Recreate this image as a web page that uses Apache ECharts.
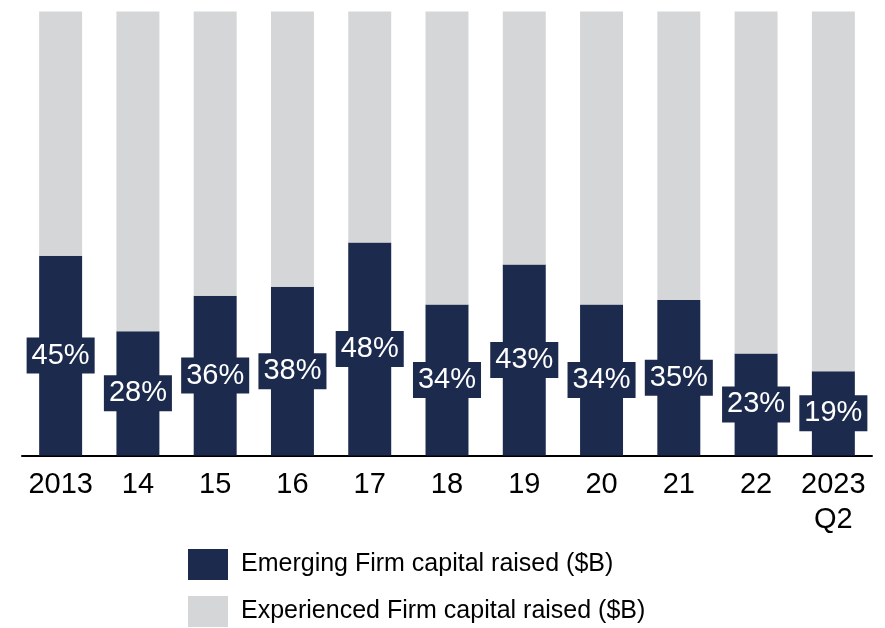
<!DOCTYPE html>
<html>
<head>
<meta charset="utf-8">
<script src="https://cdn.jsdelivr.net/npm/echarts@6/dist/echarts.min.js"></script>
<style>
  html, body { margin: 0; padding: 0; background: #fff; }
  #chart { width: 885px; height: 628px; }
</style>
</head>
<body>
<div id="chart"></div>
<script>
// share of capital raised, percent of total
const categories = ['2013', '14', '15', '16', '17', '18', '19', '20', '21', '22', '2023\nQ2']
const emergingShare = [45, 28, 36, 38, 48, 34, 43, 34, 35, 23, 19]
const experiencedShare = [55, 72, 64, 62, 52, 66, 57, 66, 65, 77, 81]
const seriesNames = ['Emerging Firm capital raised ($B)', 'Experienced Firm capital raised ($B)']

const NAVY = '#1c2a4e'
const GRAY = '#d5d6d8'
const FONT = 'Liberation Sans, Arial, sans-serif'

const myChart = echarts.init(document.getElementById('chart'))

// one legend per row, stacked
function legendRow(name, top) {
    return {
        data: [name],
        left: 188,
        top: top,
        padding: 0,
        itemWidth: 40,
        itemHeight: 31,
        icon: 'rect',
        textStyle: { fontSize: 25, color: '#000', fontFamily: FONT, padding: [0, 0, 0, 8] }
    }
}

const option = {
    color: [NAVY, GRAY],
    animation: false,
    textStyle: { fontFamily: FONT },
    grid: { left: 22, right: 13, top: 11.5, bottom: 172.5, containLabel: false },
    legend: [legendRow(seriesNames[0], 549), legendRow(seriesNames[1], 596)],
    xAxis: {
        type: 'category',
        data: categories,
        axisLine: { lineStyle: { color: '#000', width: 2 } },
        axisTick: { show: false },
        axisLabel: { interval: 0, color: '#000', fontSize: 29, lineHeight: 35, margin: 12, fontFamily: FONT }
    },
    yAxis: {
        type: 'value',
        min: 0,
        max: 100,
        show: false,
        splitLine: { show: false }
    },
    series: [
        {
            name: seriesNames[0],
            type: 'bar',
            stack: 'total',
            barWidth: '55.6%',
            data: emergingShare,
            label: {
                show: true,
                position: 'inside',
                formatter: '{c}%',
                color: '#fff',
                fontSize: 29,
                fontFamily: FONT,
                lineHeight: 30,
                backgroundColor: NAVY,
                padding: [3, 5]
            }
        },
        {
            name: seriesNames[1],
            type: 'bar',
            stack: 'total',
            data: experiencedShare
        }
    ]
}

myChart.setOption(option)
</script>
</body>
</html>
